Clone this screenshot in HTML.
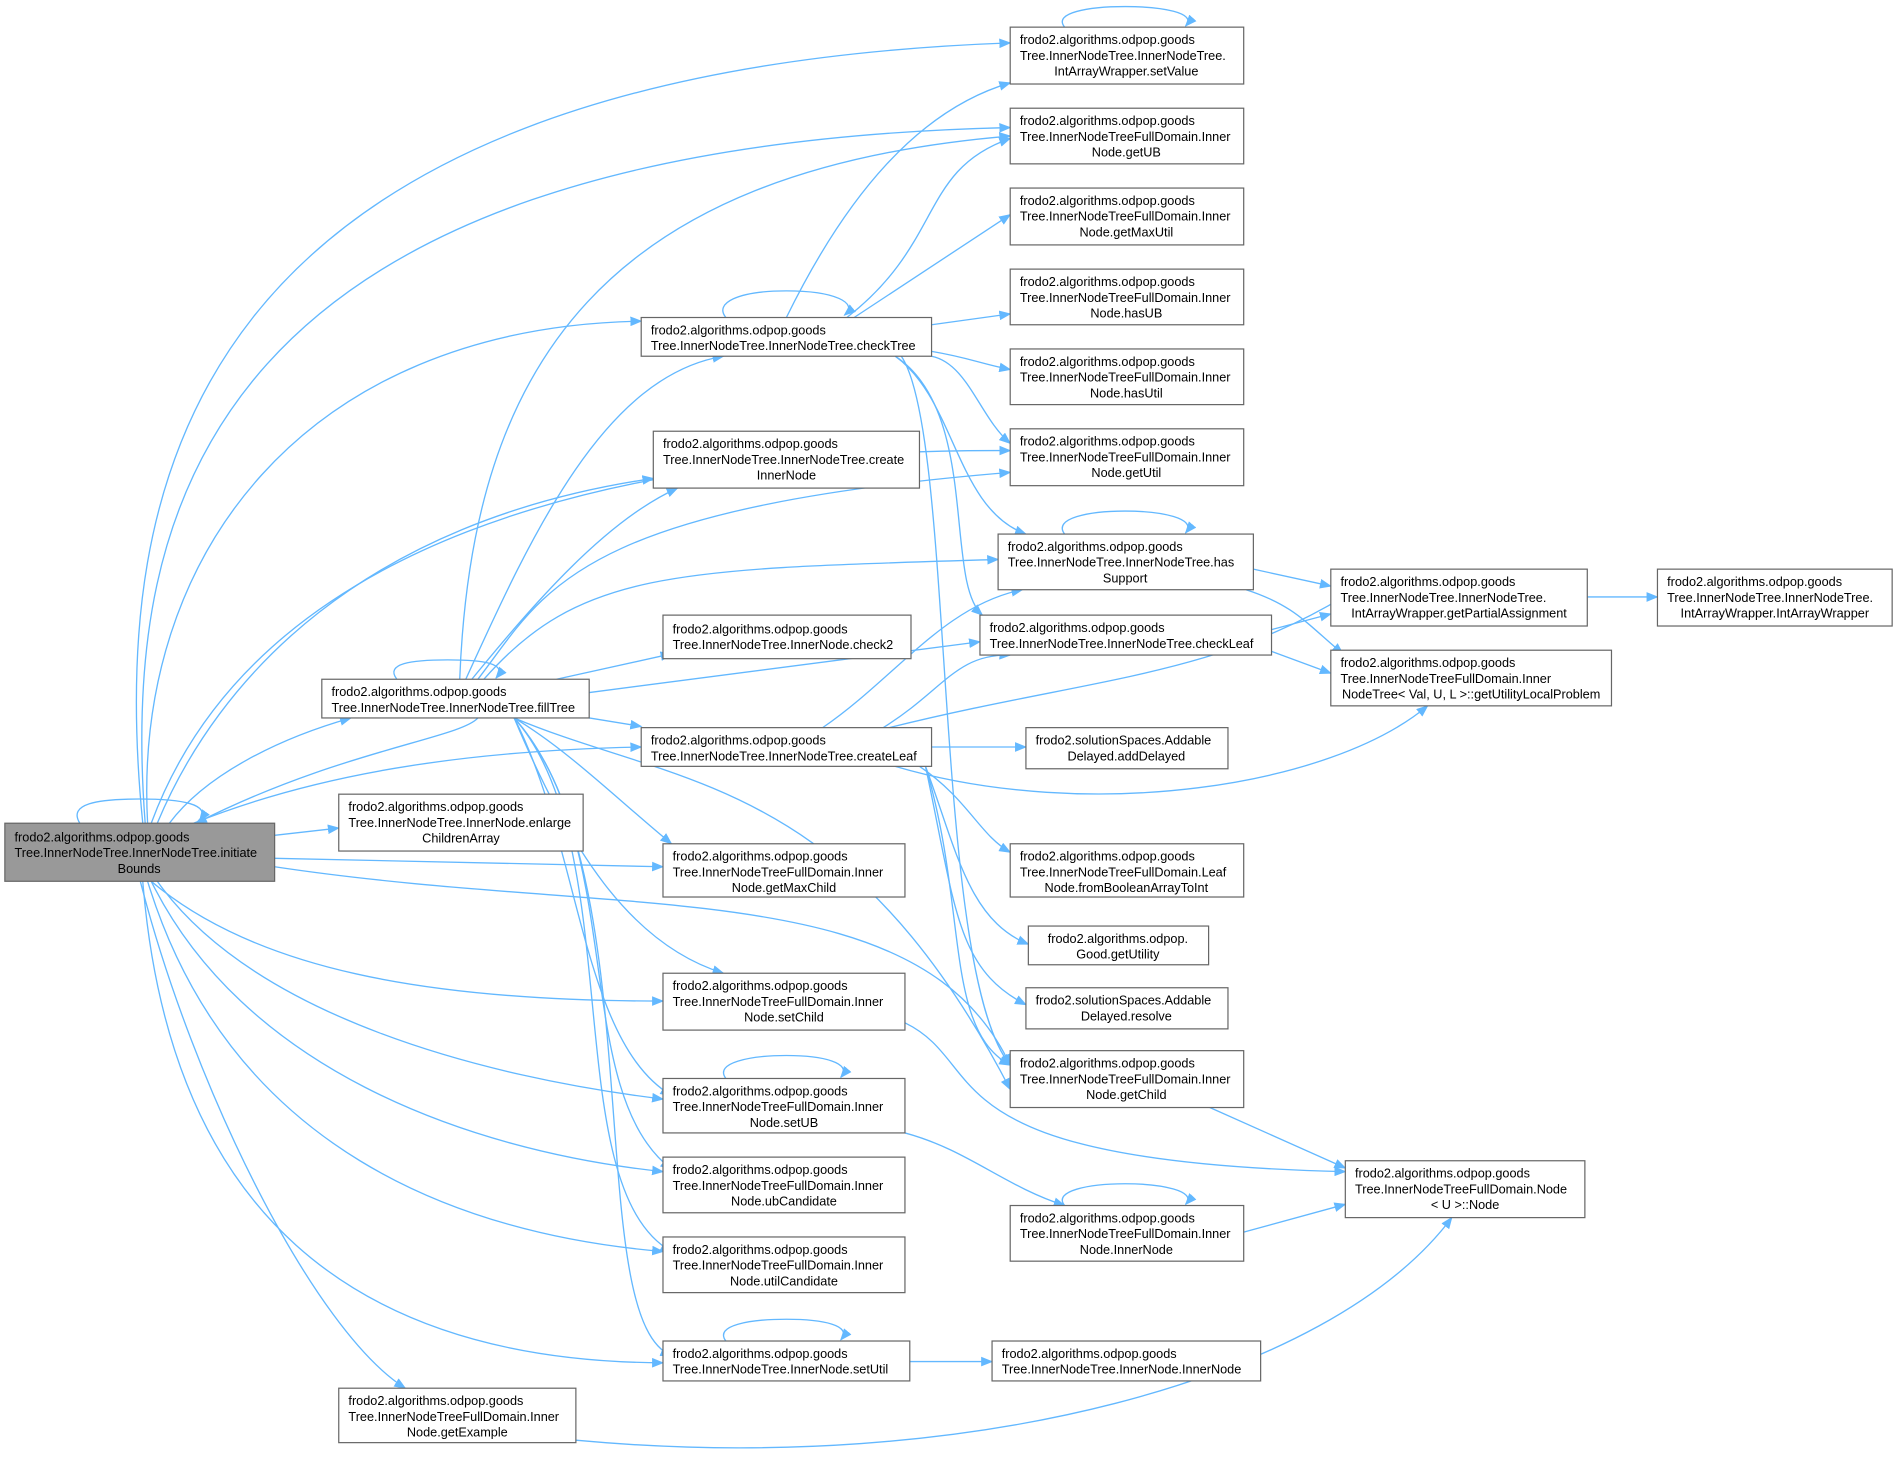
<!DOCTYPE html>
<html><head><meta charset="utf-8"><style>
html,body{margin:0;padding:0;background:#fff;}
svg{display:block}
text{font-family:"Liberation Sans",Arial,sans-serif;font-size:10.5px;fill:#000}
.n{fill:#fff;stroke:#666;stroke-width:1}
.e{fill:none;stroke:#63b8ff;stroke-width:1.1}
</style></head><body>
<svg width="1897" height="1471" viewBox="0 0 1568 1215" xmlns="http://www.w3.org/2000/svg">
<defs><marker id="a" markerWidth="10" markerHeight="8" refX="9" refY="4" orient="auto" markerUnits="userSpaceOnUse"><path d="M0,0 L10,4 L0,8 z" fill="#63b8ff"/></marker></defs>
<g class="e" marker-end="url(#a)">
<!-- initiateBounds -->
<path d="M66,680 C56,664 80,660 115,660 C150,660 175,664 165,678"/>
<path d="M118,680 C90,400 150,60 835,35"/>
<path d="M120,680 C100,420 170,120 835,105"/>
<path d="M122,680 C110,460 250,270 530,265"/>
<path d="M125,680 C210,450 500,370 835,372"/>
<path d="M130,680 C180,560 300,430 540,395"/>
<path d="M140,680 C170,640 230,610 290,593"/>
<path d="M160,680 C260,640 380,620 530,617"/>
<path d="M227,690 L280,684"/>
<path d="M227,709 L548,716"/>
<path d="M227,716 C520,760 760,720 835,880"/>
<path d="M125,728 C210,800 350,827 548,827"/>
<path d="M130,728 C210,840 400,890 548,908"/>
<path d="M125,728 C200,880 380,950 548,968"/>
<path d="M122,728 C190,950 380,1020 548,1034"/>
<path d="M118,728 C140,1000 290,1125 548,1126"/>
<path d="M116,728 C160,900 260,1100 335,1147"/>
<!-- fillTree -->
<path d="M328,561 C318,548 340,545 370,545 C400,545 420,548 410,560"/>
<path d="M395,593 C380,610 280,620 162,680"/>
<path d="M380,561 C390,300 500,140 835,112"/>
<path d="M385,561 C440,440 500,310 598,294"/>
<path d="M390,561 C440,500 500,430 560,403"/>
<path d="M395,561 C450,490 470,420 835,390"/>
<path d="M400,561 C480,470 560,470 825,462"/>
<path d="M460,561 L555,540"/>
<path d="M487,572 L810,530"/>
<path d="M487,593 L530,600"/>
<path d="M425,593 C470,620 510,660 555,697"/>
<path d="M425,593 C470,700 520,780 598,804"/>
<path d="M425,593 C480,700 480,860 555,905"/>
<path d="M425,593 C520,700 470,900 555,966"/>
<path d="M425,593 C520,700 460,980 555,1034"/>
<path d="M425,593 C540,720 480,1090 555,1120"/>
<path d="M425,593 C560,650 700,640 835,900"/>
<!-- checkTree -->
<path d="M600,262 C590,250 610,240 650,240 C690,240 710,250 698,260"/>
<path d="M650,262 C700,160 760,90 835,68"/>
<path d="M700,262 C780,200 760,140 835,114"/>
<path d="M706,262 L835,177"/>
<path d="M770,268 L835,259"/>
<path d="M770,290 C800,295 810,300 835,305"/>
<path d="M770,294 C800,300 810,345 835,366"/>
<path d="M740,294 C790,330 790,420 848,441"/>
<path d="M740,294 C810,340 780,480 812,508"/>
<path d="M745,294 C790,360 770,800 835,880"/>
<!-- createLeaf -->
<path d="M680,601 C740,560 780,500 845,487"/>
<path d="M730,601 C780,570 790,540 835,541"/>
<path d="M735,601 C900,560 1000,560 1112,492"/>
<path d="M770,617 L848,617"/>
<path d="M740,633 C900,680 1100,650 1180,583"/>
<path d="M760,633 C800,660 810,690 835,704"/>
<path d="M765,633 C790,700 800,760 850,780"/>
<path d="M765,633 C790,750 790,800 848,830"/>
<path d="M765,633 C800,750 780,850 835,880"/>
<!-- hasSupport -->
<path d="M880,441 C870,428 900,422 930,422 C960,422 990,428 980,440"/>
<path d="M1036,470 L1100,484"/>
<path d="M1030,487 C1070,500 1080,515 1110,540"/>
<path d="M1051,520 L1100,507"/>
<path d="M1051,538 L1100,556"/>
<path d="M1312,493 L1370,493"/>
<!-- setValue self -->
<path d="M880,22 C870,10 900,5 930,5 C960,5 990,10 980,21"/>
<!-- setChild / getChild / InnerNode / setUB / setUtil / getExample -->
<path d="M748,845 C820,880 760,960 1112,968"/>
<path d="M1000,915 L1112,965"/>
<path d="M1028,1018 L1112,995"/>
<path d="M880,996 C870,984 900,978 930,978 C960,978 990,984 980,995"/>
<path d="M600,891 C590,878 620,872 650,872 C680,872 705,878 695,890"/>
<path d="M748,936 C800,950 830,980 880,996"/>
<path d="M600,1108 C590,1095 620,1090 650,1090 C680,1090 705,1095 695,1107"/>
<path d="M752,1125 L820,1125"/>
<path d="M476,1190 C800,1220 1100,1140 1200,1006"/>
</g>
<g>
<rect x="4" y="680" width="223" height="48" fill="#999" stroke="#666"/>
<text x="12" y="695">frodo2.algorithms.odpop.goods</text><text x="12" y="708">Tree.InnerNodeTree.InnerNodeTree.initiate</text><text x="115" y="721" text-anchor="middle">Bounds</text>
</g>
<g>
<rect class="n" x="266" y="561" width="221" height="32"/><text x="274" y="575">frodo2.algorithms.odpop.goods</text><text x="274" y="588">Tree.InnerNodeTree.InnerNodeTree.fillTree</text>
<rect class="n" x="280" y="656" width="202" height="47"/><text x="288" y="670">frodo2.algorithms.odpop.goods</text><text x="288" y="683">Tree.InnerNodeTree.InnerNode.enlarge</text><text x="381" y="696" text-anchor="middle">ChildrenArray</text>
<rect class="n" x="280" y="1147" width="196" height="45"/><text x="288" y="1161">frodo2.algorithms.odpop.goods</text><text x="288" y="1174">Tree.InnerNodeTreeFullDomain.Inner</text><text x="378" y="1187" text-anchor="middle">Node.getExample</text>
<rect class="n" x="530" y="262" width="240" height="32"/><text x="538" y="276">frodo2.algorithms.odpop.goods</text><text x="538" y="289">Tree.InnerNodeTree.InnerNodeTree.checkTree</text>
<rect class="n" x="540" y="356" width="220" height="47"/><text x="548" y="370">frodo2.algorithms.odpop.goods</text><text x="548" y="383">Tree.InnerNodeTree.InnerNodeTree.create</text><text x="650" y="396" text-anchor="middle">InnerNode</text>
<rect class="n" x="548" y="508" width="205" height="36"/><text x="556" y="523">frodo2.algorithms.odpop.goods</text><text x="556" y="536">Tree.InnerNodeTree.InnerNode.check2</text>
<rect class="n" x="530" y="601" width="240" height="32"/><text x="538" y="615">frodo2.algorithms.odpop.goods</text><text x="538" y="628">Tree.InnerNodeTree.InnerNodeTree.createLeaf</text>
<rect class="n" x="548" y="697" width="200" height="44"/><text x="556" y="711">frodo2.algorithms.odpop.goods</text><text x="556" y="724">Tree.InnerNodeTreeFullDomain.Inner</text><text x="648" y="737" text-anchor="middle">Node.getMaxChild</text>
<rect class="n" x="548" y="804" width="200" height="47"/><text x="556" y="818">frodo2.algorithms.odpop.goods</text><text x="556" y="831">Tree.InnerNodeTreeFullDomain.Inner</text><text x="648" y="844" text-anchor="middle">Node.setChild</text>
<rect class="n" x="548" y="891" width="200" height="45"/><text x="556" y="905">frodo2.algorithms.odpop.goods</text><text x="556" y="918">Tree.InnerNodeTreeFullDomain.Inner</text><text x="648" y="931" text-anchor="middle">Node.setUB</text>
<rect class="n" x="548" y="956" width="200" height="46"/><text x="556" y="970">frodo2.algorithms.odpop.goods</text><text x="556" y="983">Tree.InnerNodeTreeFullDomain.Inner</text><text x="648" y="996" text-anchor="middle">Node.ubCandidate</text>
<rect class="n" x="548" y="1022" width="200" height="46"/><text x="556" y="1036">frodo2.algorithms.odpop.goods</text><text x="556" y="1049">Tree.InnerNodeTreeFullDomain.Inner</text><text x="648" y="1062" text-anchor="middle">Node.utilCandidate</text>
<rect class="n" x="548" y="1108" width="204" height="33"/><text x="556" y="1122">frodo2.algorithms.odpop.goods</text><text x="556" y="1135">Tree.InnerNodeTree.InnerNode.setUtil</text>
<rect class="n" x="835" y="22" width="193" height="47"/><text x="843" y="36">frodo2.algorithms.odpop.goods</text><text x="843" y="49">Tree.InnerNodeTree.InnerNodeTree.</text><text x="931" y="62" text-anchor="middle">IntArrayWrapper.setValue</text>
<rect class="n" x="835" y="89" width="193" height="46"/><text x="843" y="103">frodo2.algorithms.odpop.goods</text><text x="843" y="116">Tree.InnerNodeTreeFullDomain.Inner</text><text x="931" y="129" text-anchor="middle">Node.getUB</text>
<rect class="n" x="835" y="155" width="193" height="47"/><text x="843" y="169">frodo2.algorithms.odpop.goods</text><text x="843" y="182">Tree.InnerNodeTreeFullDomain.Inner</text><text x="931" y="195" text-anchor="middle">Node.getMaxUtil</text>
<rect class="n" x="835" y="222" width="193" height="46"/><text x="843" y="236">frodo2.algorithms.odpop.goods</text><text x="843" y="249">Tree.InnerNodeTreeFullDomain.Inner</text><text x="931" y="262" text-anchor="middle">Node.hasUB</text>
<rect class="n" x="835" y="288" width="193" height="46"/><text x="843" y="302">frodo2.algorithms.odpop.goods</text><text x="843" y="315">Tree.InnerNodeTreeFullDomain.Inner</text><text x="931" y="328" text-anchor="middle">Node.hasUtil</text>
<rect class="n" x="835" y="354" width="193" height="47"/><text x="843" y="368">frodo2.algorithms.odpop.goods</text><text x="843" y="381">Tree.InnerNodeTreeFullDomain.Inner</text><text x="931" y="394" text-anchor="middle">Node.getUtil</text>
<rect class="n" x="825" y="441" width="211" height="46"/><text x="833" y="455">frodo2.algorithms.odpop.goods</text><text x="833" y="468">Tree.InnerNodeTree.InnerNodeTree.has</text><text x="930" y="481" text-anchor="middle">Support</text>
<rect class="n" x="810" y="508" width="241" height="33"/><text x="818" y="522">frodo2.algorithms.odpop.goods</text><text x="818" y="535">Tree.InnerNodeTree.InnerNodeTree.checkLeaf</text>
<rect class="n" x="848" y="601" width="167" height="34"/><text x="856" y="615">frodo2.solutionSpaces.Addable</text><text x="931" y="628" text-anchor="middle">Delayed.addDelayed</text>
<rect class="n" x="835" y="697" width="193" height="44"/><text x="843" y="711">frodo2.algorithms.odpop.goods</text><text x="843" y="724">Tree.InnerNodeTreeFullDomain.Leaf</text><text x="931" y="737" text-anchor="middle">Node.fromBooleanArrayToInt</text>
<rect class="n" x="850" y="765" width="149" height="32"/><text x="924" y="779" text-anchor="middle">frodo2.algorithms.odpop.</text><text x="924" y="792" text-anchor="middle">Good.getUtility</text>
<rect class="n" x="848" y="816" width="167" height="34"/><text x="856" y="830">frodo2.solutionSpaces.Addable</text><text x="931" y="843" text-anchor="middle">Delayed.resolve</text>
<rect class="n" x="835" y="868" width="193" height="47"/><text x="843" y="882">frodo2.algorithms.odpop.goods</text><text x="843" y="895">Tree.InnerNodeTreeFullDomain.Inner</text><text x="931" y="908" text-anchor="middle">Node.getChild</text>
<rect class="n" x="835" y="996" width="193" height="46"/><text x="843" y="1010">frodo2.algorithms.odpop.goods</text><text x="843" y="1023">Tree.InnerNodeTreeFullDomain.Inner</text><text x="931" y="1036" text-anchor="middle">Node.InnerNode</text>
<rect class="n" x="820" y="1108" width="222" height="33"/><text x="828" y="1122">frodo2.algorithms.odpop.goods</text><text x="828" y="1135">Tree.InnerNodeTree.InnerNode.InnerNode</text>
<rect class="n" x="1100" y="470" width="212" height="47"/><text x="1108" y="484">frodo2.algorithms.odpop.goods</text><text x="1108" y="497">Tree.InnerNodeTree.InnerNodeTree.</text><text x="1206" y="510" text-anchor="middle">IntArrayWrapper.getPartialAssignment</text>
<rect class="n" x="1100" y="537" width="232" height="46"/><text x="1108" y="551">frodo2.algorithms.odpop.goods</text><text x="1108" y="564">Tree.InnerNodeTreeFullDomain.Inner</text><text x="1216" y="577" text-anchor="middle">NodeTree&lt; Val, U, L &gt;::getUtilityLocalProblem</text>
<rect class="n" x="1112" y="959" width="198" height="47"/><text x="1120" y="973">frodo2.algorithms.odpop.goods</text><text x="1120" y="986">Tree.InnerNodeTreeFullDomain.Node</text><text x="1211" y="999" text-anchor="middle">&lt; U &gt;::Node</text>
<rect class="n" x="1370" y="470" width="194" height="47"/><text x="1378" y="484">frodo2.algorithms.odpop.goods</text><text x="1378" y="497">Tree.InnerNodeTree.InnerNodeTree.</text><text x="1467" y="510" text-anchor="middle">IntArrayWrapper.IntArrayWrapper</text>
</g>
</svg>
</body></html>
